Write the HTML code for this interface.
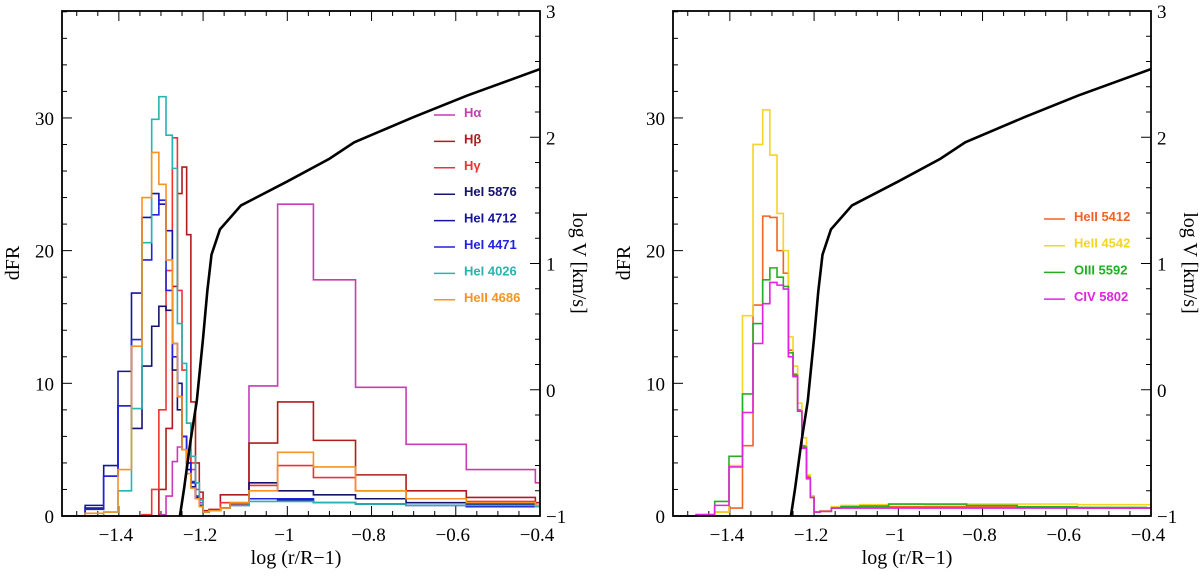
<!DOCTYPE html>
<html><head><meta charset="utf-8"><style>
body{margin:0;background:#fff;width:1200px;height:572px;overflow:hidden}
svg text{font-family:"Liberation Serif",serif}
.lg{font-family:"Liberation Sans",sans-serif;font-weight:bold;font-size:13px}
</style></head><body>
<svg id="c" width="1200" height="572" xmlns="http://www.w3.org/2000/svg"></svg>
<script>
const edges=[-1.535,-1.48,-1.436,-1.402,-1.37,-1.345,-1.322,-1.305,-1.288,-1.273,-1.261,-1.25,-1.239,-1.229,-1.218,-1.209,-1.2,-1.186,-1.159,-1.136,-1.091,-1.023,-0.938,-0.838,-0.718,-0.575,-0.411,-0.4];
const leftNames=["Hα","Hβ","Hγ","HeI 5876","HeI 4712","HeI 4471","HeI 4026","HeII 4686"];
const leftColors=["#c83cb4","#b01c1c","#f03232","#14146e","#1414a0","#2222e0","#28b4b0","#f59422"];
const hAlpha=[0,0,0,0,0,0,0,0.1,1.5,4.1,5.2,6,5,3.5,2,1,0.3,0.4,0.6,0.9,9.8,23.5,17.8,9.7,5.4,3.5,2.5];
const hBeta=[0,0,0,0,0,0,0,2,6.6,17.3,24.3,26.3,21.2,8.6,4,1.8,0.4,0.5,1.6,1.6,5.5,8.6,5.7,3.1,1.9,1.4,1.0];
const hGamma=[0,0,0,0,0,0.1,2,8,18.5,28.5,17,11,7,4,2.5,1.3,0.3,0.4,1.0,0.9,2.3,3.8,2.9,1.9,1.3,1.1,0.8];
const heI5876=[0,0.6,3,8.3,6.6,11.3,14.3,15.8,15.5,11,8,5,3.5,2.2,1.3,0.8,0.3,0.4,0.6,1.0,2.5,1.9,1.6,1.3,1.0,0.9,0.8];
const heI4712=[0,0.8,3.8,10.9,16.8,22.5,24.3,23.5,21.5,13,10,6,4,2.5,1.4,0.8,0.3,0.4,0.6,0.8,1.3,1.2,1.0,0.9,0.8,0.8,0.7];
const heI4471=[0,0.5,3,8.3,13.3,19.3,22.7,23.8,17,12,9,6,4,2.6,1.5,0.8,0.3,0.4,0.6,0.8,1.3,1.3,1.0,0.9,0.8,0.7,0.7];
const heI4026=[0,0,0.3,1.9,8.1,20.6,29.9,31.6,28.7,26.2,14.5,11.5,7,4.5,2.5,1.2,0.3,0.4,0.6,0.8,1.1,1.1,1.0,0.9,0.8,0.8,0.7];
const heII4686=[0,0.2,0.3,3.5,12.8,24,27.4,25,19.3,13,9,5,3.2,2.1,1.3,0.7,0.3,0.4,0.6,1.0,1.9,4.8,3.7,1.9,1.3,1.0,0.8];
const rightNames=["HeII 5412","HeII 4542","OIII 5592","CIV 5802"];
const rightColors=["#f06426","#f5d524","#22b022","#e024e0"];
const heII5412=[0,0.1,0.3,0.6,5.3,15.9,22.6,22.5,20,18.3,12.5,10.7,8,5.3,3,1.5,0.3,0.35,0.6,0.65,0.65,0.7,0.7,0.7,0.65,0.6,0.6];
const heII4542=[0,0.1,0.3,3.8,15.1,28,30.6,27.2,22.8,20,13.5,11.3,8.5,5.9,3.1,1.5,0.3,0.4,0.7,0.8,0.85,0.9,0.85,0.9,0.9,0.85,0.85];
const oIII5592=[0,0.1,1.1,4.5,9.2,14.5,17.8,18.7,18,17.3,12.3,10.6,7.9,5.2,2.9,1.4,0.3,0.35,0.6,0.7,0.75,0.9,0.9,0.8,0.7,0.65,0.6];
const cIV5802=[0,0.1,0.8,3.7,7.8,13,16,17.6,17.4,17.1,12,10.5,7.9,5.1,2.8,1.4,0.3,0.35,0.6,0.6,0.6,0.6,0.6,0.6,0.6,0.6,0.6];
const velX=[-1.255,-1.245,-1.23,-1.215,-1.2,-1.19,-1.18,-1.16,-1.11,-1.0,-0.9,-0.841,-0.7,-0.573,-0.4];
const velY=[-1,-0.78,-0.41,-0.09,0.41,0.78,1.07,1.27,1.46,1.65,1.83,1.96,2.16,2.33,2.54];
const xTicks=[-1.4,-1.2,-1,-0.8,-0.6,-0.4];
const xTickLabels=["−1.4","−1.2","−1","−0.8","−0.6","−0.4"];
const yTicks=[0,10,20,30];
const vTicks=[-1,0,1,2,3];
const vTickLabels=["−1","0","1","2","3"];

const NS="http://www.w3.org/2000/svg";
const svg=document.getElementById('c');
function el(t,a,p){const e=document.createElementNS(NS,t);for(const k in a)e.setAttribute(k,a[k]);(p||svg).appendChild(e);return e;}
const XMIN=-1.535,XMAX=-0.4,YMAX=38.06;
function panel(px0,name,series,names,colors,legX,legY0,legDy){
  const W=478,T=11,B=516;
  const g=el('g',{});
  
  
  const sx=v=>px0+(v-XMIN)/(XMAX-XMIN)*W;
  const sy=v=>B-v/YMAX*(B-T);
  const sv=v=>B-(v+1)/4*(B-T);
  for(let i=0;;i++){const v=-1.5+i*0.05;if(v>XMAX+1e-6)break;if(v<XMIN)continue;
    const major=Math.abs(v*5-Math.round(v*5))<1e-6;const L=major?10:5;const x=sx(v);
    el('line',{x1:x,y1:B,x2:x,y2:B-L,stroke:'#000','stroke-width':1},g);
    el('line',{x1:x,y1:T,x2:x,y2:T+L,stroke:'#000','stroke-width':1},g);}
  for(let v=0;v<=38;v+=2){const L=v%10==0?10:5;const y=sy(v);
    el('line',{x1:px0,y1:y,x2:px0+L,y2:y,stroke:'#000','stroke-width':1},g);}
  for(let i=0;i<=20;i++){const v=-1+i*0.2;const L=i%5==0?10:5;const y=sv(v);
    el('line',{x1:px0+W,y1:y,x2:px0+W-L,y2:y,stroke:'#000','stroke-width':1},g);}
  xTicks.forEach((v,i)=>{const t=el('text',{x:sx(v)-3,y:541,'font-size':19,'text-anchor':'middle'},g);t.textContent=xTickLabels[i];
    });
  yTicks.forEach(v=>{const t=el('text',{x:px0-8,y:sy(v)+7,'font-size':19,'text-anchor':'end'},g);t.textContent=v;
    });
  vTicks.forEach((v,i)=>{const t=el('text',{x:px0+W+6,y:sv(v)+7,'font-size':19},g);t.textContent=vTickLabels[i];
    });
  series.forEach((s,k)=>{let d='M'+sx(edges[0])+','+sy(s[0]);
    for(let i=0;i<s.length;i++){d+=' L'+sx(edges[i])+','+sy(s[i])+' L'+sx(edges[i+1])+','+sy(s[i]);}
    const p=el('path',{d:d,fill:'none',stroke:colors[k],'stroke-width':1.6},g);
    
    });
  const vd=velX.map((x,i)=>(i?'L':'M')+sx(x)+','+sv(velY[i])).join(' ');
  const vp=el('path',{d:vd,fill:'none',stroke:'#000','stroke-width':2.6},g);
  
  
  el('rect',{x:px0,y:T,width:W,height:B-T,fill:'none',stroke:'#000','stroke-width':1.8},g);
  names.forEach((n,k)=>{const y=legY0+k*legDy;
    const lg=el('g',{},g);
    
    
    el('line',{x1:legX,y1:y+3,x2:legX+21,y2:y+3,stroke:colors[k],'stroke-width':1.5},lg);
    const t=el('text',{x:legX+30,y:y+5,fill:colors[k],class:'lg'},lg);t.textContent=n;});
  const xt=el('text',{x:px0+W/2-5,y:564,'font-size':20,'text-anchor':'middle'},g);xt.textContent='log (r/R−1)';
  
  const yt=el('text',{x:0,y:0,'font-size':20,'text-anchor':'middle',transform:`translate(${px0-43},263) rotate(-90)`},g);yt.textContent='dFR';
  
  const vt=el('text',{x:0,y:0,'font-size':20,'text-anchor':'middle',transform:`translate(${px0+W+33},263) rotate(90)`},g);vt.textContent='log V [km/s]';
  
}
panel(62,'left-panel',[hAlpha,hBeta,hGamma,heI5876,heI4712,heI4471,heI4026,heII4686],leftNames,leftColors,434,112,26.4);
panel(673,'right-panel',[heII5412,heII4542,oIII5592,cIV5802],rightNames,rightColors,1044,216,26.7);
</script>
</body></html>
